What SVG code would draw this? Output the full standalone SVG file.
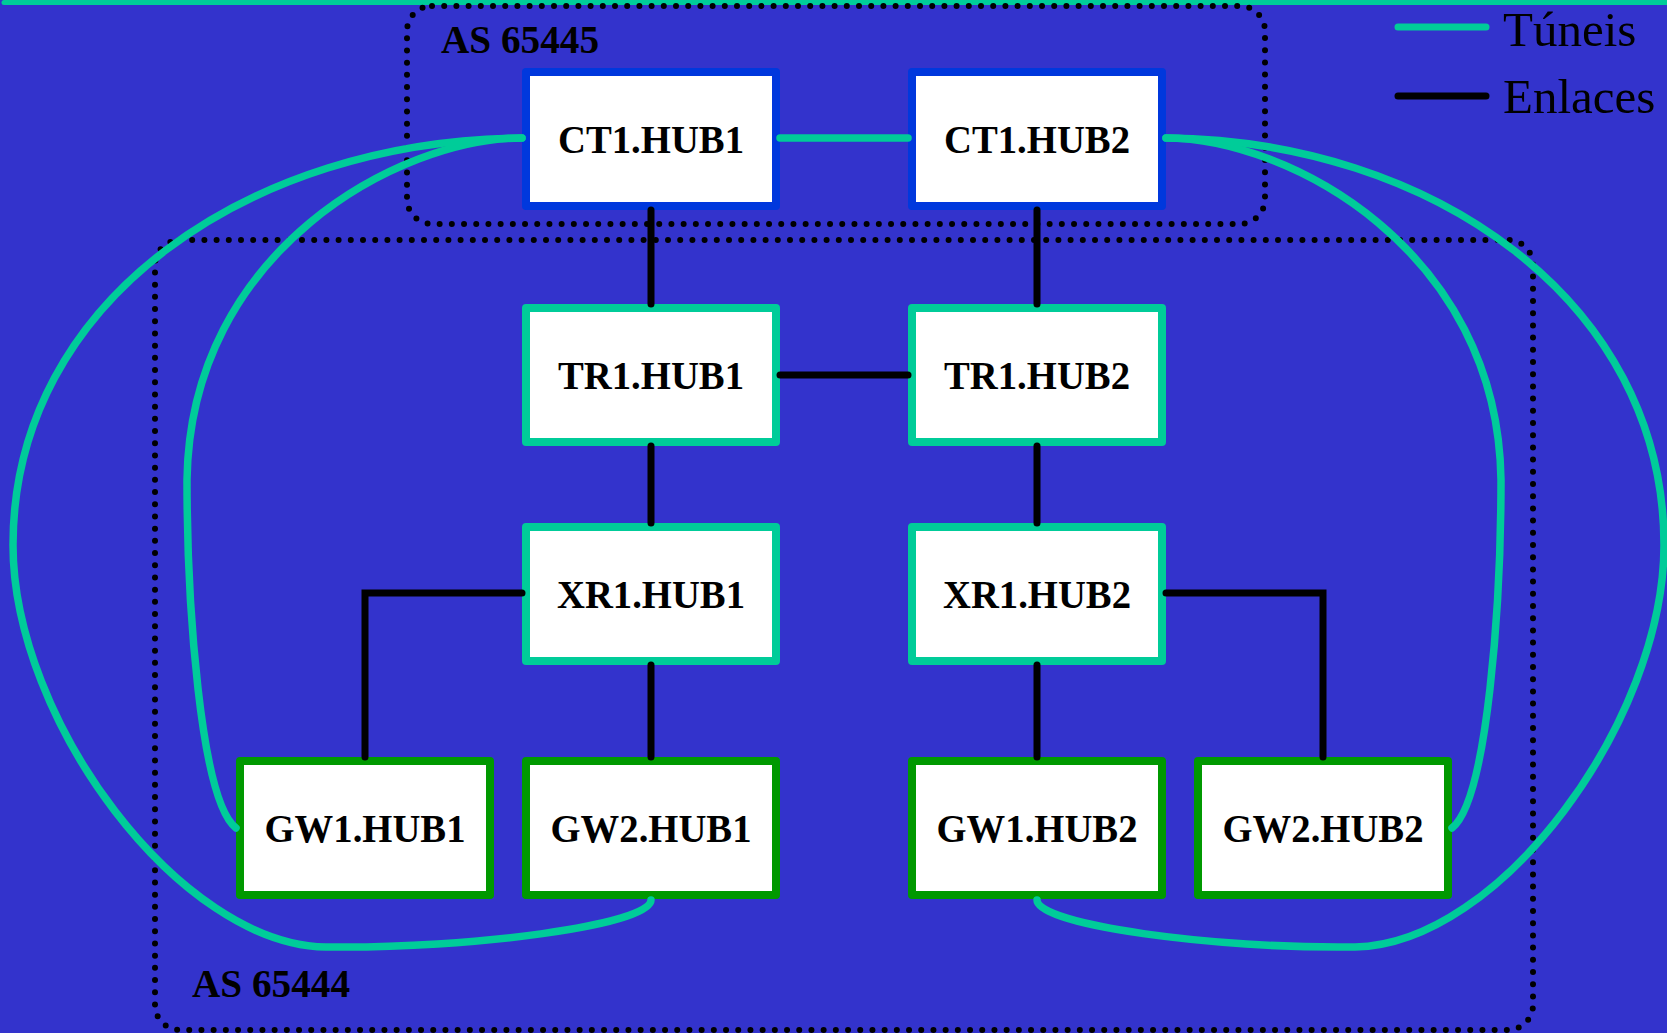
<svg xmlns="http://www.w3.org/2000/svg" width="1667" height="1033" viewBox="0 0 1667 1033">
<style>
.bg{fill:#3333cc}
.as{fill:none;stroke:#000;stroke-width:6;stroke-linecap:round;stroke-dasharray:0 12.2}
.asl{font-family:"Liberation Serif","Times New Roman",serif;font-weight:bold;font-size:40px;fill:#000}
.box{fill:#fff;stroke-width:8;stroke-linejoin:round}
.ct{stroke:#0038dd}
.tr{stroke:#00cc99}
.gw{stroke:#009900}
.lbl{font-family:"Liberation Serif","Times New Roman",serif;font-weight:bold;font-size:41px;fill:#000;text-anchor:middle}
.lnk{fill:none;stroke:#000;stroke-width:7;stroke-linecap:round;stroke-linejoin:miter}
.tun{fill:none;stroke:#00cc99;stroke-width:7.5;stroke-linecap:round}
.leg{font-family:"Liberation Serif","Times New Roman",serif;font-size:49px;fill:#000}
</style>
<rect class="bg" x="0" y="0" width="1667" height="1033"/>
<line x1="4" y1="2.5" x2="1667" y2="2.5" stroke="#00cc99" stroke-width="5" stroke-linecap="round"/>
<g id="as65445">
<rect class="as" x="407" y="6" width="858" height="218" rx="25"/>
<text class="asl" x="441" y="53" textLength="158" lengthAdjust="spacingAndGlyphs">AS 65445</text>
</g>
<g id="as65444">
<rect class="as" x="155" y="240" width="1378" height="790" rx="25"/>
<text class="asl" x="192" y="997" textLength="158" lengthAdjust="spacingAndGlyphs">AS 65444</text>
</g>
<g id="CT1.HUB1"><rect class="box ct" x="526" y="72" width="250" height="134"/><text class="lbl" x="651" y="152.5" textLength="186" lengthAdjust="spacingAndGlyphs">CT1.HUB1</text></g>
<g id="CT1.HUB2"><rect class="box ct" x="912" y="72" width="250" height="134"/><text class="lbl" x="1037" y="152.5" textLength="186" lengthAdjust="spacingAndGlyphs">CT1.HUB2</text></g>
<g id="TR1.HUB1"><rect class="box tr" x="526" y="308" width="250" height="134"/><text class="lbl" x="651" y="388.5" textLength="186" lengthAdjust="spacingAndGlyphs">TR1.HUB1</text></g>
<g id="TR1.HUB2"><rect class="box tr" x="912" y="308" width="250" height="134"/><text class="lbl" x="1037" y="388.5" textLength="186" lengthAdjust="spacingAndGlyphs">TR1.HUB2</text></g>
<g id="XR1.HUB1"><rect class="box tr" x="526" y="527" width="250" height="134"/><text class="lbl" x="651" y="607.5" textLength="188" lengthAdjust="spacingAndGlyphs">XR1.HUB1</text></g>
<g id="XR1.HUB2"><rect class="box tr" x="912" y="527" width="250" height="134"/><text class="lbl" x="1037" y="607.5" textLength="188" lengthAdjust="spacingAndGlyphs">XR1.HUB2</text></g>
<g id="GW1.HUB1"><rect class="box gw" x="240" y="761" width="250" height="134"/><text class="lbl" x="365" y="841.5" textLength="201" lengthAdjust="spacingAndGlyphs">GW1.HUB1</text></g>
<g id="GW2.HUB1"><rect class="box gw" x="526" y="761" width="250" height="134"/><text class="lbl" x="651" y="841.5" textLength="201" lengthAdjust="spacingAndGlyphs">GW2.HUB1</text></g>
<g id="GW1.HUB2"><rect class="box gw" x="912" y="761" width="250" height="134"/><text class="lbl" x="1037" y="841.5" textLength="201" lengthAdjust="spacingAndGlyphs">GW1.HUB2</text></g>
<g id="GW2.HUB2"><rect class="box gw" x="1198" y="761" width="250" height="134"/><text class="lbl" x="1323" y="841.5" textLength="201" lengthAdjust="spacingAndGlyphs">GW2.HUB2</text></g>
<g id="connectors">
<path class="lnk" d="M651 210V304"/>
<path class="lnk" d="M1037 210V304"/>
<path class="lnk" d="M780 375H908"/>
<path class="lnk" d="M651 446V523"/>
<path class="lnk" d="M1037 446V523"/>
<path class="lnk" d="M522 593H365V757"/>
<path class="lnk" d="M651 665V757"/>
<path class="lnk" d="M1037 665V757"/>
<path class="lnk" d="M1166 593H1323V757"/>
<path class="tun" d="M780 138H908"/>
<path class="tun" d="M522 138C400 138 190 250 187 480C187 600 200 800 236 828"/>
<path class="tun" d="M522 138C250 140 13 300 13 545C13 720 180 945 326 947C470 949 651 925 651 900"/>
<path class="tun" d="M1166 138C1288 138 1498 250 1501 480C1501 600 1488 800 1452 828"/>
<path class="tun" d="M1166 138C1430 140 1664 300 1664 545C1664 720 1500 945 1355 947C1215 949 1037 925 1037 900"/>
</g>
<g id="legend">
<line x1="1398" y1="27" x2="1486" y2="27" stroke="#00cc99" stroke-width="7" stroke-linecap="round"/>
<line x1="1398" y1="96" x2="1486" y2="96" stroke="#000" stroke-width="7" stroke-linecap="round"/>
<text class="leg" x="1503" y="46">Túneis</text>
<text class="leg" x="1503" y="113">Enlaces</text>
</g>
</svg>
